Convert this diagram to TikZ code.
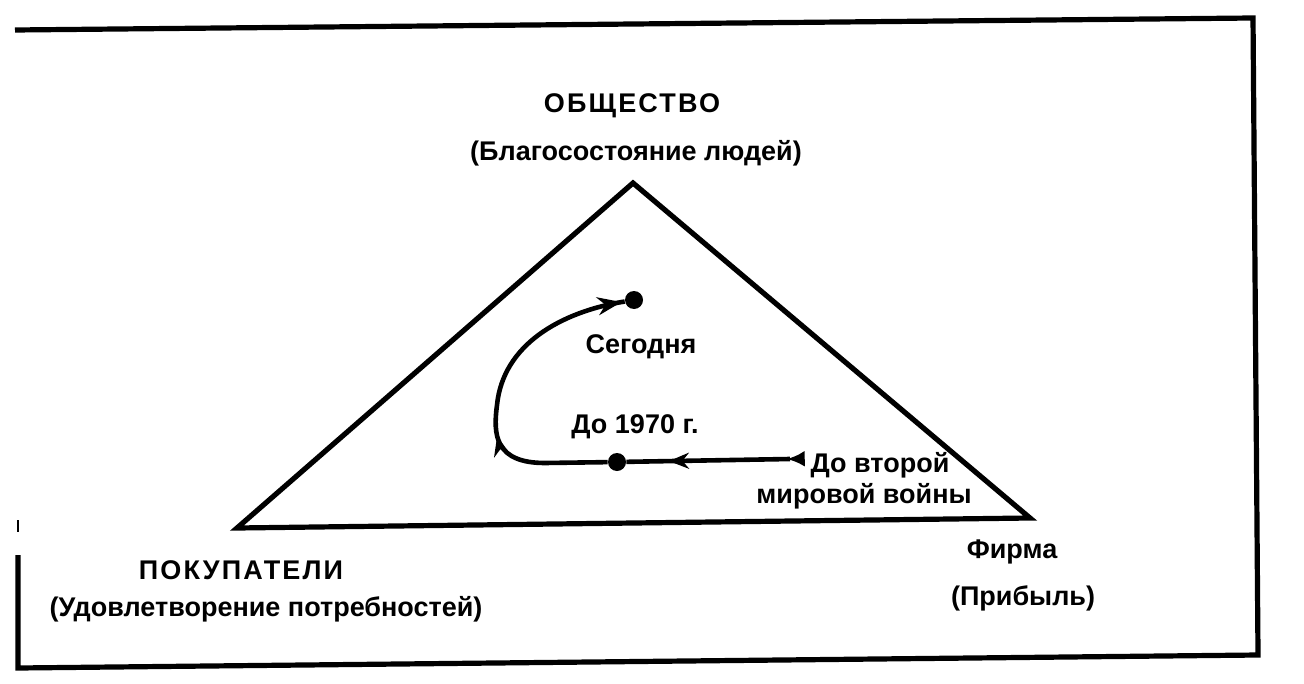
\documentclass[tikz,border=0pt]{standalone}
\usepackage{fontspec}
\setmainfont{Liberation Sans}
\newfontfamily\capsfont{Liberation Sans}[LetterSpace=8]
\usetikzlibrary{arrows.meta,decorations.markings}

\tikzset{
  lbl/.style={font=\bfseries\fontsize{13.5}{15.5}\selectfont,inner sep=0pt},
  caps/.style={font=\capsfont\bfseries\fontsize{13.5}{15.5}\selectfont,inner sep=0pt},
  edge/.style={line width=2.6pt,line join=miter},
  trail/.style={line width=2.3pt},
  dot/.style={circle,fill,inner sep=0pt,minimum size=9pt},
}

\begin{document}
\begin{tikzpicture}[x=0.5pt,y=-0.5pt]
  \useasboundingbox (0,0) rectangle (1304,684);
  % frame
  \draw[edge] (18,555) -- (18,668) -- (1258,655) -- (1253,18) -- (15,30);
  \draw[line width=1.2pt] (18,520) -- (18,532);
  % the triangle
  \coordinate (soc) at (633,183);
  \coordinate (buy) at (237,528);
  \coordinate (firm) at (1030,518);
  \draw[edge] (soc) -- (firm) -- (buy) -- cycle;
  % labels
  \node[caps] (socname) at (632,106) {ОБЩЕСТВО};
  \node[lbl] (socgoal) at (636,153) {(Благосостояние людей)};
  \node[caps] (buyname) at (241,570) {ПОКУПАТЕЛИ};
  \node[lbl] (buygoal) at (266,609) {(Удовлетворение потребностей)};
  \node[lbl] (firmname) at (1012,552) {Фирма};
  \node[lbl] (firmgoal) at (1023,598) {(Прибыль)};
  % path of the firm's orientation
  \node[dot] (today) at (634,300) {};
  \node[dot] (y1970) at (617,462) {};
  \coordinate (prewar) at (790,459);
  \node[lbl] (todaylbl) at (641,347) {Сегодня};
  \node[lbl] (y1970lbl) at (635,427) {До 1970 г.};
  \node[lbl,align=center] (prewarlbl) at (864,481) {\hspace*{16pt}До второй\\мировой войны};
  \draw[trail,postaction={decorate},decoration={markings,
      mark=at position 0.02 with {\arrow{Latex[length=9pt,width=8pt]}},
      mark=at position 0.74 with {\arrow{Stealth[length=10pt,width=8pt]}}}]
    (prewar) -- (y1970);
  \draw[trail,postaction={decorate},decoration={markings,
      mark=at position 0.37 with {\arrow{Stealth[length=10pt,width=8pt]}},
      mark=at position 0.99 with {\arrow{Stealth[length=12pt,width=9pt]}}}]
    (y1970) -- (545,463) .. controls (495,463) and (493,435) .. (497,405)
    .. controls (503,345) and (560,312) .. (today);
\end{tikzpicture}
\end{document}
